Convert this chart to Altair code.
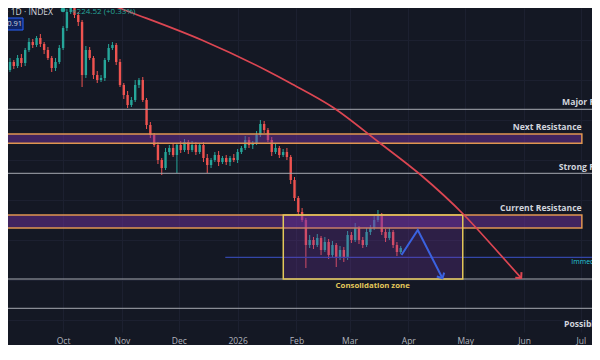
import altair as alt
import pandas as pd

BG = "#141824"
GREEN = "#26a69a"
RED = "#ef5350"
GRID = "#1c2030"

# ---------------- data ----------------
# 2-day candles starting 2025-09-01 (open of each = previous close)
first_open = 212.0
closes = [215, 219, 217, 221, 218.5, 225, 229, 227.5, 231, 228,
          225, 221, 216, 219, 226, 236, 244, 247.5, 242.5, 239,
          212.5, 225, 221, 212.5, 210, 211, 220, 226, 227.5, 219,
          207.5, 202.5, 197.5, 200, 207.5, 210, 200, 187.5, 182.5, 177.5,
          170, 166, 174, 176, 172.5, 177.5, 175, 179, 175, 177.5,
          174, 177.5, 171, 167.5, 170, 172.5, 169, 171, 169, 171,
          170, 174, 176, 180, 177.5, 178.5, 182.5, 188, 185, 180,
          174, 176, 172.5, 174, 171.5, 160, 151, 144, 140, 127.5,
          130, 127.5, 131, 125, 129, 122.5, 127.5, 121, 125, 121,
          132.5, 130, 136, 130, 127.5, 134, 136, 140, 142.5, 134,
          131, 134, 127.5, 124, 126]
upper_wick = [1.5, 2, 1, 1.5, 2, 1, 2, 1.5, 1, 2,
              1, 1.5, 1, 2, 1.5, 1, 1.5, 2.5, 2, 1.5,
              1, 2, 1.5, 1, 2, 1.5, 1, 2, 1.5, 1,
              1.5, 1, 2, 1.5, 2.5, 1, 1.5, 1, 1.5, 1,
              1.5, 1, 2, 1.5, 2, 1, 2, 1.5, 1, 2,
              1.5, 1, 1.5, 2, 1, 1.5, 2, 1, 1.5, 1,
              2, 1.5, 1, 2, 1.5, 1, 2, 2, 1.5, 1,
              1.5, 2, 1, 1.5, 2, 1, 1.5, 1, 2, 1,
              2.5, 1.5, 2, 1, 2.5, 1.5, 2, 1, 2, 1.5,
              2, 1.5, 2.5, 1, 1.5, 2, 1.5, 2, 2.5, 1,
              1.5, 2, 1, 1.5, 1]
lower_wick = [2, 1, 1.5, 1, 2, 1.5, 1, 1.5, 1, 1.5,
              2, 1, 2, 1.5, 1, 1, 1.5, 1, 1.5, 2,
              6, 1.5, 1, 2, 1.5, 1, 1.5, 1, 1, 1.5,
              1, 2, 1.5, 1, 1, 1.5, 1, 2, 1.5, 1,
              2, 3.5, 1, 1.5, 1, 9, 1.5, 1, 2, 1,
              1.5, 1, 2, 4, 1.5, 1, 2, 1, 1.5, 2,
              1, 1.5, 1, 1, 1.5, 2, 1, 1, 1.5, 1,
              2, 1, 1.5, 1, 1.5, 2, 1.5, 2, 1, 11.5,
              1.5, 2, 1, 2.5, 1, 2, 1.5, 4.5, 1, 2,
              1, 1.5, 1, 2, 1.5, 1, 1.5, 1, 1, 1.5,
              2, 1, 1.5, 2, 1]

# horizontal levels
level_prices = [195.35, 163.35, 110.5, 95.85]

# resistance bands
band_start = ["2025-08-01T00:00", "2025-08-01T00:00"]
band_end = ["2026-07-01T12:00", "2026-07-01T12:00"]
band_top = [183.0, 142.5]
band_bottom = [178.35, 136]

# consolidation zone
zone_start = ["2026-01-25T02:00"]
zone_end = ["2026-04-29T17:00"]
zone_top = [142.5]
zone_bottom = [110.5]

# immediate support
support_start = ["2025-12-25T12:00"]
support_end = ["2026-08-01T00:00"]
support_price = [121.35]

# red projection arc
arc_dates = ["2025-10-14T12:00", "2025-10-22T05:00", "2025-11-05T05:00", "2025-12-13T02:00",
             "2026-01-16T19:00", "2026-01-28T17:00", "2026-02-20T00:00", "2026-03-16T07:00",
             "2026-04-07T14:00", "2026-04-30T10:00", "2026-05-15T22:00", "2026-05-30T12:00"]
arc_prices = [251.75, 249, 244, 230, 214.5, 208.5, 196.5, 179, 162.5, 142.5, 126.5, 111]

# blue zigzag path
zig_dates = ["2026-03-28T10:00", "2026-04-06T00:00", "2026-04-19T00:00"]
zig_prices = [122.5, 135, 110.85]

# arrow heads
head_dates = ["2026-05-30T12:00", "2026-04-19T00:00"]
head_prices = [111, 110.85]
head_angles = [318, 332]
head_colors = ["#dc4652", "#3a62e0"]

# labels
left_labels = ["Major Resistance", "Strong Resistance", "Possible Support"]
left_dates = ["2026-06-21T02:00", "2026-06-19T07:00", "2026-06-22T02:00"]
left_prices = [199.15, 166.65, 88]
right_labels = ["Next Resistance", "Current Resistance"]
right_dates = ["2026-07-01T10:00", "2026-07-01T10:00"]
right_prices = [186.65, 145.85]
immed_label = ["Immediate Support"]
immed_date = ["2026-06-25T22:00"]
immed_price = [119.15]
zone_label = ["Consolidation zone"]
zone_label_date = ["2026-03-13T05:00"]
zone_label_price = [107.15]

month_ticks = [(2025, 10), (2025, 11), (2025, 12), (2026, 1), (2026, 2), (2026, 3),
               (2026, 4), (2026, 5), (2026, 6), (2026, 7)]
y_grid = [90, 110, 130, 150, 170, 190, 210, 230]


def D(lst):
    return pd.to_datetime(lst, format="ISO8601")


# ---------------- frames ----------------
dates = pd.date_range("2025-09-01", periods=len(closes), freq="2D")
opens = [first_open] + closes[:-1]
candles = pd.DataFrame({
    "date": dates,
    "open": opens,
    "close": closes,
    "high": [max(o, c) + u for o, c, u in zip(opens, closes, upper_wick)],
    "low": [min(o, c) - l for o, c, l in zip(opens, closes, lower_wick)],
})
candles["dir"] = ["up" if c >= o else "down" for o, c in zip(opens, closes)]

levels = pd.DataFrame({"price": level_prices})
bands = pd.DataFrame({"start": D(band_start), "end": D(band_end),
                      "top": band_top, "bottom": band_bottom})
zone = pd.DataFrame({"start": D(zone_start), "end": D(zone_end),
                     "top": zone_top, "bottom": zone_bottom})
support = pd.DataFrame({"start": D(support_start), "end": D(support_end),
                        "price": support_price})
arc = pd.DataFrame({"date": D(arc_dates), "price": arc_prices})
zig = pd.DataFrame({"date": D(zig_dates), "price": zig_prices})
heads = pd.DataFrame({"date": D(head_dates), "price": head_prices,
                      "angle": head_angles, "col": head_colors})
ltext = pd.DataFrame({"date": D(left_dates), "price": left_prices, "text": left_labels})
rtext = pd.DataFrame({"date": D(right_dates), "price": right_prices, "text": right_labels})
itext = pd.DataFrame({"date": D(immed_date), "price": immed_price, "text": immed_label})
ztext = pd.DataFrame({"date": D(zone_label_date), "price": zone_label_price, "text": zone_label})

# ---------------- scales ----------------
xscale = alt.Scale(domain=[alt.DateTime(year=2025, month=9, date=4, hours=14),
                           alt.DateTime(year=2026, month=7, date=4, hours=5)], nice=False)
yscale = alt.Scale(domain=[84, 246], nice=False, zero=False)
xaxis = alt.Axis(values=[alt.DateTime(year=y, month=m, date=1) for y, m in month_ticks],
                 labelExpr="month(datum.value) == 0 ? timeFormat(datum.value, '%Y') : timeFormat(datum.value, '%b')",
                 grid=True, gridColor=GRID, ticks=False, domain=False, title=None,
                 labelColor="#b2b5be", labelFontSize=8.5, labelFont="Open Sans", labelPadding=4,
                 labelOverlap=False, labelFlush=False)
yaxis = alt.Axis(values=y_grid, grid=True, gridColor=GRID, labels=False, ticks=False,
                 domain=False, title=None)


def X(f):
    return alt.X(f, type="temporal", scale=xscale, axis=xaxis)


def Y(f):
    return alt.Y(f, type="quantitative", scale=yscale, axis=yaxis)


col = alt.Color("dir:N", scale=alt.Scale(domain=["up", "down"], range=[GREEN, RED]), legend=None)

wicks = alt.Chart(candles).mark_rule(strokeWidth=1, clip=True).encode(
    x=X("date"), y=Y("low"), y2="high", color=col)
bodies = alt.Chart(candles).mark_bar(size=2.4, clip=True).encode(
    x=X("date"), y=Y("open"), y2="close", color=col)

level_rules = alt.Chart(levels).mark_rule(color="#a7aab2", strokeWidth=1).encode(y=Y("price"))

band_rects = alt.Chart(bands).mark_rect(fill="#7832aa", fillOpacity=0.45, stroke="#e09550",
                                        strokeWidth=1.5, clip=True).encode(
    x=X("start"), x2="end", y=Y("top"), y2="bottom")
zone_rect = alt.Chart(zone).mark_rect(fill="#7832aa", fillOpacity=0.25, stroke="#e3c75a",
                                      strokeWidth=1.5, clip=True).encode(
    x=X("start"), x2="end", y=Y("top"), y2="bottom")
support_rule = alt.Chart(support).mark_rule(color="#3346a8", strokeWidth=1.2, clip=True).encode(
    x=X("start"), x2="end", y=Y("price"))

arc_line = alt.Chart(arc).mark_line(color="#dc4652", strokeWidth=1.7, interpolate="monotone",
                                    clip=True).encode(x=X("date"), y=Y("price"))
zig_line = alt.Chart(zig).mark_line(color="#3a62e0", strokeWidth=2, clip=True).encode(
    x=X("date"), y=Y("price"))
head_marks = alt.Chart(heads).mark_point(shape="M-1,-1L0,0L1,-1", filled=False, size=70,
                                         strokeWidth=2, opacity=1).encode(
    x=X("date"), y=Y("price"), angle=alt.Angle("angle:Q", scale=None),
    color=alt.Color("col:N", scale=None))

lab_font = "Open Sans"
left_text = alt.Chart(ltext).mark_text(align="left", baseline="middle", color="#d1d4dc",
                                       fontSize=8.6, fontWeight="bold", font=lab_font).encode(
    x=X("date"), y=Y("price"), text="text:N")
right_text = alt.Chart(rtext).mark_text(align="right", baseline="middle", color="#d1d4dc",
                                        fontSize=8.6, fontWeight="bold", font=lab_font).encode(
    x=X("date"), y=Y("price"), text="text:N")
immed_text = alt.Chart(itext).mark_text(align="left", baseline="middle", color="#26c6da",
                                        fontSize=7, font=lab_font).encode(
    x=X("date"), y=Y("price"), text="text:N")
zone_text = alt.Chart(ztext).mark_text(align="center", baseline="middle", color="#e3c75a",
                                       fontSize=7.8, fontWeight="bold", font=lab_font).encode(
    x=X("date"), y=Y("price"), text="text:N")

# header chrome (screen positions)
one = alt.Data(values=[{}])
title_text = alt.Chart(one).mark_text(align="right", baseline="middle", color="#d1d4dc",
                                      fontSize=8.5, font=lab_font, text="Solar · 1D · INDEX").encode(
    x=alt.value(45), y=alt.value(4))
dot = alt.Chart(one).mark_point(filled=True, color=GREEN, size=22, opacity=1).encode(
    x=alt.value(55), y=alt.value(2))
price_text = alt.Chart(one).mark_text(align="left", baseline="middle", color=GREEN,
                                      fontSize=8, font=lab_font, text="≈224.52 (+0.33%)").encode(
    x=alt.value(64), y=alt.value(4))
box = alt.Chart(one).mark_rect(fill="#0e2466", stroke="#2962ff", strokeWidth=1).encode(
    x=alt.value(-2), x2=alt.value(15), y=alt.value(10), y2=alt.value(22))
box_text = alt.Chart(one).mark_text(align="right", baseline="middle", color="#d1d4dc",
                                    fontSize=7.5, font=lab_font, text="50.91").encode(
    x=alt.value(14), y=alt.value(16))

chart = alt.layer(
    wicks, bodies, level_rules, support_rule, band_rects, zone_rect,
    arc_line, zig_line, head_marks,
    left_text, right_text, immed_text, zone_text,
    title_text, dot, price_text, box, box_text,
).properties(
    width=584, height=324, background=BG,
    padding={"left": 0, "top": 0, "right": 0, "bottom": 13},
    autosize=alt.AutoSizeParams(type="none"),
).configure_view(stroke=None)

chart.save("out.html", embed_options={"renderer": "svg", "actions": False})
